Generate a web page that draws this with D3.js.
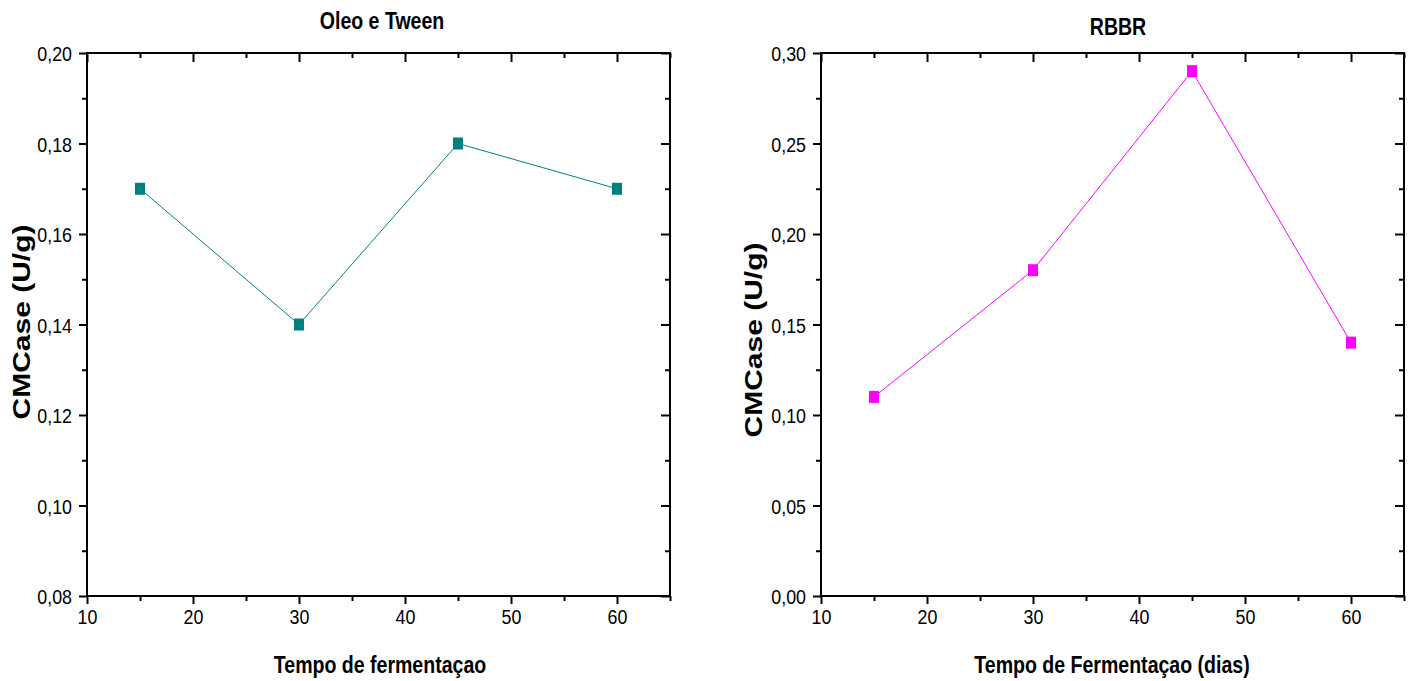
<!DOCTYPE html>
<html>
<head>
<meta charset="utf-8">
<script src="https://cdn.jsdelivr.net/npm/d3@7"></script>
<style>
  html, body { margin: 0; padding: 0; background: #fff; }
  svg { display: block; }
  text { font-family: "Liberation Sans", Arial, sans-serif; fill: #000; }
</style>
</head>
<body>
<svg id="chart" width="1414" height="681"></svg>
<script>
// Fermentation time (days) shared by both panels
const dias = [15, 30, 45, 60];

// CMCase activity (U/g) per treatment
const oleoTween = [0.17, 0.14, 0.18, 0.17];
const rbbr = [0.11, 0.18, 0.29, 0.14];

// Axis ticks
const xMajorTicks = [10, 20, 30, 40, 50, 60];
const xMinorTicks = [15, 25, 35, 45, 55, 65];
const yMajorOleo = [0.08, 0.10, 0.12, 0.14, 0.16, 0.18, 0.20];
const yMinorOleo = [0.09, 0.11, 0.13, 0.15, 0.17, 0.19];
const yMajorRbbr = [0.00, 0.05, 0.10, 0.15, 0.20, 0.25, 0.30];
const yMinorRbbr = [0.025, 0.075, 0.125, 0.175, 0.225, 0.275];

const svg = d3.select("#chart");
const SQ = 0.85; // horizontal condensing of the lettering

const fmt = d => d3.format(".2f")(d).replace(".", ",");

function panel(cfg) {
  const g = svg.append("g");
  const x = d3.scaleLinear().domain([10, 65]).range([cfg.left, cfg.right]);
  const y = d3.scaleLinear().domain(cfg.yDomain).range([cfg.bottom, cfg.top]);

  // Bottom axis (ticks outward) with labels
  const bottom = g.append("g").attr("transform", `translate(0,${cfg.bottom})`)
    .call(d3.axisBottom(x).tickValues(cfg.xMajor).tickSize(8).tickSizeOuter(0).tickFormat(d3.format("d")));
  const bottomMinor = g.append("g").attr("transform", `translate(0,${cfg.bottom})`)
    .call(d3.axisBottom(x).tickValues(cfg.xMinor).tickSize(5).tickSizeOuter(0).tickFormat(""));

  // Left axis (ticks outward) with labels
  const left = g.append("g").attr("transform", `translate(${cfg.left},0)`)
    .call(d3.axisLeft(y).tickValues(cfg.yMajor).tickSize(8).tickSizeOuter(0).tickFormat(fmt));
  const leftMinor = g.append("g").attr("transform", `translate(${cfg.left},0)`)
    .call(d3.axisLeft(y).tickValues(cfg.yMinor).tickSize(5).tickSizeOuter(0).tickFormat(""));

  // Top and right mirror axes (ticks inward, no labels)
  const top = g.append("g").attr("transform", `translate(0,${cfg.top})`)
    .call(d3.axisBottom(x).tickValues(cfg.xMajor).tickSize(9).tickSizeOuter(0).tickFormat(""));
  const topMinor = g.append("g").attr("transform", `translate(0,${cfg.top})`)
    .call(d3.axisBottom(x).tickValues(cfg.xMinor).tickSize(5).tickSizeOuter(0).tickFormat(""));
  const right = g.append("g").attr("transform", `translate(${cfg.right},0)`)
    .call(d3.axisLeft(y).tickValues(cfg.yMajor).tickSize(9).tickSizeOuter(0).tickFormat(""));
  const rightMinor = g.append("g").attr("transform", `translate(${cfg.right},0)`)
    .call(d3.axisLeft(y).tickValues(cfg.yMinor).tickSize(5).tickSizeOuter(0).tickFormat(""));

  [bottom, bottomMinor, left, leftMinor, top, topMinor, right, rightMinor].forEach(a => {
    a.select(".domain").remove();
    a.selectAll(".tick line").attr("stroke", "#000").attr("stroke-width", 2);
  });

  bottom.selectAll(".tick text")
    .attr("y", 0).attr("dy", 0)
    .attr("transform", `translate(0,28) scale(${SQ},1)`)
    .style("font-size", "21px");
  left.selectAll(".tick text")
    .attr("x", 0).attr("dy", 0)
    .attr("transform", `translate(-15,7.5) scale(${SQ},1)`)
    .style("font-size", "21px");

  // Frame
  g.append("rect")
    .attr("x", cfg.left).attr("y", cfg.top)
    .attr("width", cfg.right - cfg.left).attr("height", cfg.bottom - cfg.top)
    .attr("fill", "none").attr("stroke", "#000").attr("stroke-width", 2);

  // Series line and square markers
  const pts = dias.map((d, i) => [d, cfg.values[i]]);
  g.append("path")
    .datum(pts)
    .attr("fill", "none")
    .attr("stroke", cfg.color)
    .attr("stroke-width", 1)
    .attr("d", d3.line().x(d => x(d[0])).y(d => y(d[1])));
  g.selectAll(".mk").data(pts).join("rect")
    .attr("class", "mk")
    .attr("x", d => x(d[0]) - 5).attr("y", d => y(d[1]) - 6)
    .attr("width", 10).attr("height", 12)
    .attr("fill", cfg.color);

  // Title
  g.append("text")
    .attr("transform", `translate(${cfg.titleX},${cfg.titleY}) scale(${SQ},1)`)
    .attr("text-anchor", "middle")
    .style("font-size", "23px").style("font-weight", "bold")
    .text(cfg.title);

  // X axis title
  g.append("text")
    .attr("transform", `translate(${cfg.xLabelX},673) scale(${SQ},1)`)
    .attr("text-anchor", "middle")
    .style("font-size", "23px").style("font-weight", "bold")
    .text(cfg.xLabel);

  // Y axis title
  g.append("text")
    .attr("transform", `translate(${cfg.yLabelX},${cfg.yLabelY}) scale(0.78,1) rotate(-90)`)
    .attr("text-anchor", "middle")
    .style("font-size", "30px").style("font-weight", "bold")
    .text("CMCase (U/g)");
}

panel({
  left: 87, right: 670, top: 53, bottom: 596,
  yDomain: [0.08, 0.20], yMajor: yMajorOleo, yMinor: yMinorOleo,
  xMajor: xMajorTicks, xMinor: xMinorTicks,
  values: oleoTween, color: "#008080",
  title: "Oleo e Tween", titleX: 382, titleY: 29,
  xLabel: "Tempo de fermentaçao", xLabelX: 380,
  yLabelX: 30, yLabelY: 322
});

panel({
  left: 821, right: 1404, top: 53, bottom: 596,
  yDomain: [0.00, 0.30], yMajor: yMajorRbbr, yMinor: yMinorRbbr,
  xMajor: xMajorTicks, xMinor: xMinorTicks,
  values: rbbr, color: "#ff00ff",
  title: "RBBR", titleX: 1118, titleY: 35,
  xLabel: "Tempo de Fermentaçao (dias)", xLabelX: 1112,
  yLabelX: 762, yLabelY: 340
});
</script>
</body>
</html>
